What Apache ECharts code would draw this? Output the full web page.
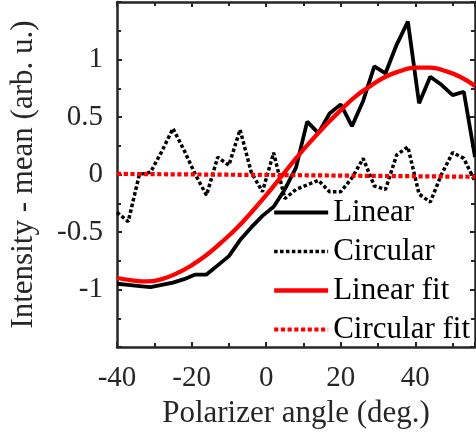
<!DOCTYPE html>
<html>
<head>
<meta charset="utf-8">
<script src="https://cdn.jsdelivr.net/npm/echarts@6/dist/echarts.min.js"></script>
<style>html,body{margin:0;padding:0;background:#fff;}#c{width:476px;height:439px;}</style>
</head>
<body>
<div id="c"></div>
<script>
// Measured angles (deg.)
var angles = [-40,-37,-34,-31,-28,-25,-22,-19,-16,-13,-10,-7,-4,-1,2,5,8,11,14,17,20,23,26,29,32,35,38,41,44,47,50,53,56];
var linearVals = [-0.95,-0.96,-0.97,-0.98,-0.96,-0.94,-0.91,-0.87,-0.87,-0.79,-0.71,-0.57,-0.46,-0.36,-0.28,-0.13,0.06,0.46,0.36,0.53,0.61,0.42,0.64,0.94,0.88,1.13,1.33,0.62,0.85,0.78,0.69,0.72,0.15];
var circularVals = [-0.33,-0.41,0.00,0.02,0.20,0.40,0.21,0.00,-0.18,0.15,0.08,0.39,0.02,-0.15,0.19,-0.21,-0.13,-0.09,-0.05,-0.15,-0.15,-0.03,0.14,-0.10,-0.13,0.17,0.24,-0.17,-0.24,0.00,0.19,0.14,-0.06];
// Fit curves
var fitAngles = [-40,-36,-32,-28,-24,-20,-16,-12,-8,-4,0,4,8,12,16,20,24,28,32,36,40,44,48,52,56];
var linearFitVals = [-0.90,-0.92,-0.93,-0.91,-0.86,-0.79,-0.70,-0.59,-0.47,-0.33,-0.18,-0.02,0.14,0.29,0.43,0.56,0.68,0.77,0.85,0.90,0.93,0.93,0.90,0.85,0.77];
var circFitAngles = [-40, 8, 56];
var circularFitVals = [0.005, -0.006, -0.02];
var xTicks = [-40, -20, 0, 20, 40];
var yTickLabels = [-1, -0.5, 0, 0.5, 1];
var legendNames = ['Linear', 'Circular', 'Linear fit', 'Circular fit'];

function pairs(xs, ys){ return xs.map(function(x,i){ return [x, ys[i]]; }); }

var font = '"Liberation Serif","Times New Roman",serif';
var axisColor = '#262626';
var chart = echarts.init(document.getElementById('c'), null, {renderer:'canvas'});
var commonAxis = {
  axisLine: {show: true, onZero: false, lineStyle: {color: axisColor, width: 2.5}},
  splitLine: {show: false}
};
var tickCfg = {show: true, inside: true, length: 5, lineStyle: {color: axisColor, width: 2}};
var minorCfg = {show: true, splitNumber: 2, length: 4, lineStyle: {color: axisColor, width: 2}};
chart.setOption({
  animation: false,
  backgroundColor: '#fff',
  grid: {left: 117, right: 1, top: 2, bottom: 92, containLabel: false, outerBoundsMode: 'none'},
  legend: {
    orient: 'vertical', left: 267, top: 191,
    itemWidth: 54, itemHeight: 14, itemGap: 6,
    itemStyle: {opacity: 0},
    lineStyle: {width: 'inherit'},
    textStyle: {fontFamily: font, fontSize: 31, color: '#000', lineHeight: 33},
    data: legendNames.map(function(n){ return {name: n, itemStyle: {opacity: 0}}; })
  },
  xAxis: [
    Object.assign({}, commonAxis, {
      type: 'value', position: 'bottom', min: -40, max: 56, interval: 20,
      axisTick: tickCfg, minorTick: minorCfg,
      axisLabel: {show: true, showMaxLabel: false, margin: 17, fontFamily: font, fontSize: 29, color: axisColor,
        formatter: function(v){ return xTicks.indexOf(v) >= 0 ? String(v) : ''; }},
      name: 'Polarizer angle (deg.)', nameLocation: 'middle', nameGap: 47,
      nameTextStyle: {fontFamily: font, fontSize: 31, color: axisColor}
    }),
    Object.assign({}, commonAxis, {
      type: 'value', position: 'top', min: -40, max: 56, interval: 20,
      axisTick: tickCfg, minorTick: minorCfg, axisLabel: {show: false}
    })
  ],
  yAxis: [
    Object.assign({}, commonAxis, {
      type: 'value', position: 'left', min: -1.5, max: 1.5, interval: 0.5,
      axisTick: tickCfg, minorTick: minorCfg,
      axisLabel: {show: true, margin: 14, fontFamily: font, fontSize: 29, color: axisColor,
        formatter: function(v){ return yTickLabels.indexOf(v) >= 0 ? String(v) : ''; }},
      name: 'Intensity - mean (arb. u.)', nameLocation: 'middle', nameGap: 78,
      nameTextStyle: {fontFamily: font, fontSize: 31, color: axisColor}
    }),
    Object.assign({}, commonAxis, {
      type: 'value', position: 'right', min: -1.5, max: 1.5, interval: 0.5,
      axisTick: tickCfg, minorTick: minorCfg, axisLabel: {show: false}
    })
  ],
  series: [
    {name: 'Linear', type: 'line', data: pairs(angles, linearVals), showSymbol: false, symbol: 'none',
     lineStyle: {color: '#000', width: 3.8}, itemStyle: {color: '#000'}, z: 3},
    {name: 'Circular', type: 'line', data: pairs(angles, circularVals), showSymbol: false, symbol: 'none',
     lineStyle: {color: '#000', width: 3.5, type: [3.5, 2.4]}, itemStyle: {color: '#000'}, z: 3},
    {name: 'Linear fit', type: 'line', data: pairs(fitAngles, linearFitVals), smooth: true, showSymbol: false, symbol: 'none',
     lineStyle: {color: '#ff0000', width: 4.3}, itemStyle: {color: '#ff0000'}, z: 4},
    {name: 'Circular fit', type: 'line', data: pairs(circFitAngles, circularFitVals), showSymbol: false, symbol: 'none',
     lineStyle: {color: '#ff0000', width: 4.2, type: [4.2, 2.5]}, itemStyle: {color: '#ff0000'}, z: 4}
  ]
});
</script>
</body>
</html>
